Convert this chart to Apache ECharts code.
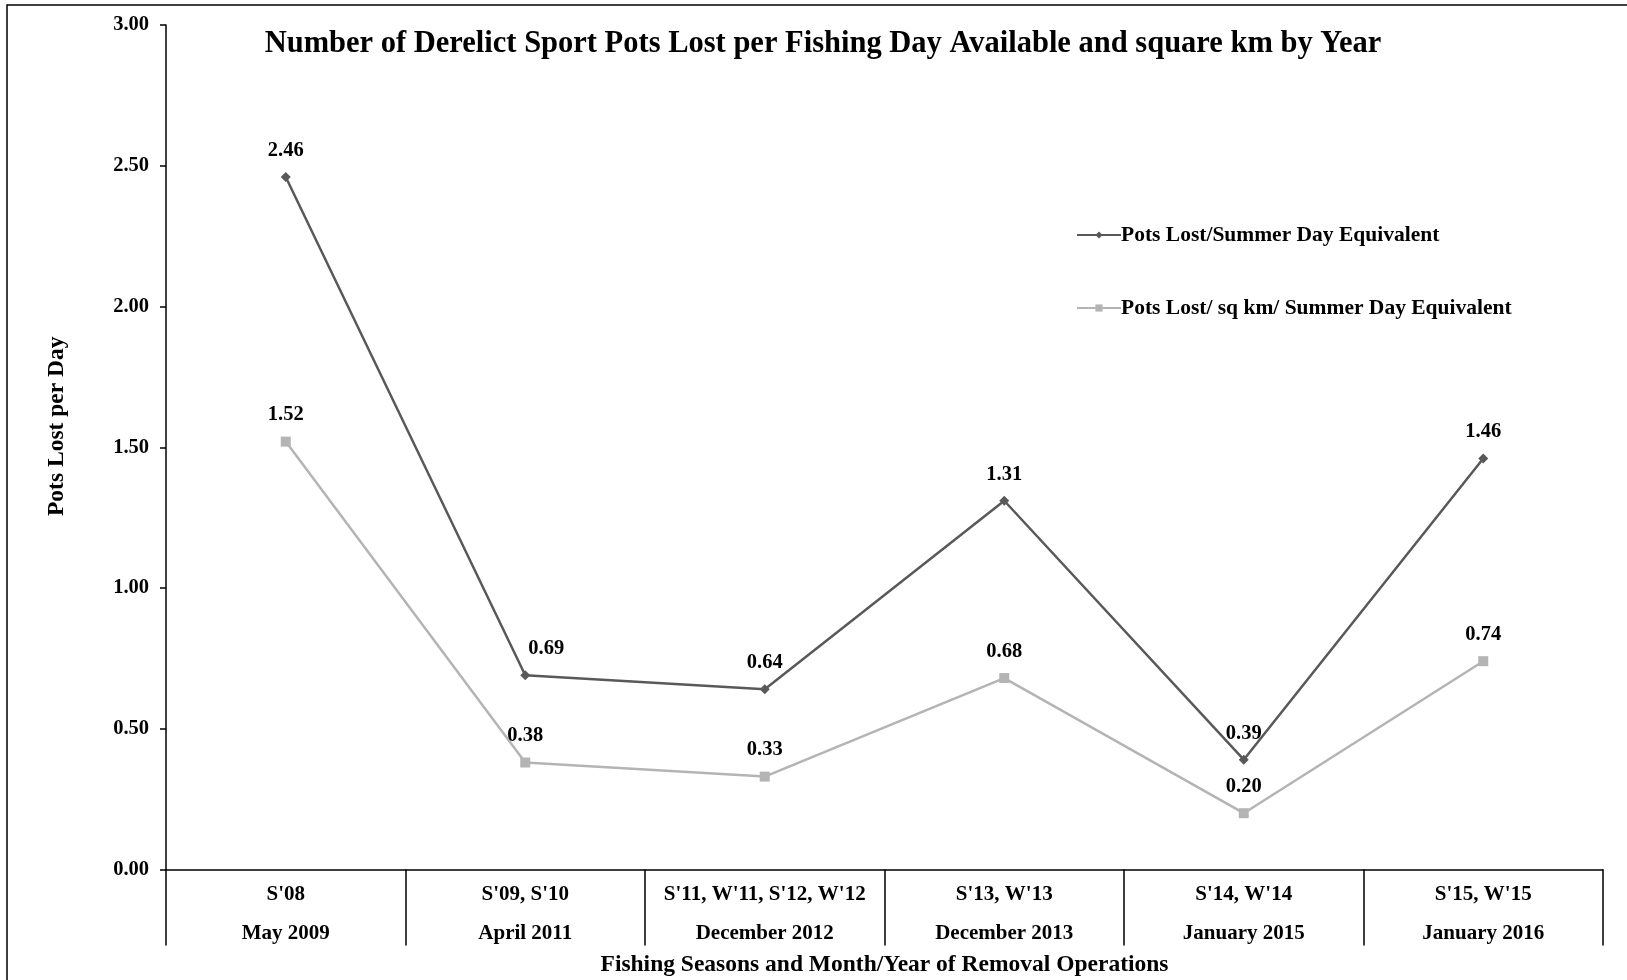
<!DOCTYPE html>
<html>
<head>
<meta charset="utf-8">
<script src="https://cdn.jsdelivr.net/npm/echarts@6/dist/echarts.min.js"></script>
<style>
html,body{margin:0;padding:0;background:#fff;}
#chart{width:1627px;height:980px;}
</style>
</head>
<body>
<div id="chart"></div>
<script>
const categories = [
  "S'08\nMay 2009",
  "S'09, S'10\nApril 2011",
  "S'11, W'11, S'12, W'12\nDecember 2012",
  "S'13, W'13\nDecember 2013",
  "S'14, W'14\nJanuary 2015",
  "S'15, W'15\nJanuary 2016"
];
const potsPerDay = [2.46, 0.69, 0.64, 1.31, 0.39, 1.46];
const potsPerSqKm = [1.52, 0.38, 0.33, 0.68, 0.20, 0.74];
const seriesNames = ["Pots Lost/Summer Day Equivalent", "Pots Lost/ sq km/ Summer Day Equivalent"];
const yTicks = [0, 0.5, 1, 1.5, 2, 2.5, 3];

const FONT = '"Liberation Serif", "Times New Roman", serif';
const chart = echarts.init(document.getElementById('chart'));

const labelCfg = {
  show: true,
  position: 'top',
  distance: 11,
  color: '#000',
  fontFamily: FONT,
  fontWeight: 'bold',
  fontSize: 20.5,
  formatter: p => p.value.toFixed(2)
};

chart.setOption({
  animation: false,
  backgroundColor: '#fff',
  title: {
    text: 'Number of Derelict Sport Pots Lost per Fishing Day Available and square km by Year',
    left: 818,
    top: 24,
    textAlign: 'center',
    textStyle: { fontFamily: FONT, fontWeight: 'bold', fontSize: 30.5, color: '#000' }
  },
  legend: {
    orient: 'vertical',
    left: 1071,
    top: 219,
    itemGap: 51,
    itemWidth: 44,
    itemHeight: 9,
    textStyle: { fontFamily: FONT, fontWeight: 'bold', fontSize: 21.5, color: '#000', padding: [0,0,0,-5] },
    data: seriesNames
  },
  grid: { left: 166, right: 1627 - 1603, top: 25, bottom: 980 - 869.5, containLabel: false, outerBoundsMode: 'none' },
  xAxis: {
    type: 'category',
    data: categories,
    boundaryGap: true,
    axisLine: { lineStyle: { color: '#000', width: 1.5 } },
    axisTick: { show: true, length: 76, lineStyle: { color: '#000', width: 1.5 } },
    axisLabel: {
      interval: 0,
      margin: 6,
      color: '#000',
      fontFamily: FONT,
      fontWeight: 'bold',
      fontSize: 21,
      lineHeight: 39
    },
    name: 'Fishing Seasons and Month/Year of Removal Operations',
    nameLocation: 'middle',
    nameGap: 83,
    nameMoveOverlap: false,
    nameTextStyle: { fontFamily: FONT, fontWeight: 'bold', fontSize: 23.5, color: '#000' }
  },
  yAxis: {
    type: 'value',
    min: 0,
    max: 3,
    interval: 0.5,
    splitLine: { show: false },
    axisLine: { show: true, lineStyle: { color: '#000', width: 1.5 } },
    axisTick: { show: true, length: 6, lineStyle: { color: '#000', width: 1.5 } },
    axisLabel: {
      margin: 17,
      color: '#000',
      fontFamily: FONT,
      fontWeight: 'bold',
      fontSize: 20.5,
      formatter: v => yTicks.indexOf(v) >= 0 ? v.toFixed(2) : ''
    },
    name: 'Pots Lost per Day',
    nameLocation: 'middle',
    nameGap: 97,
    nameRotate: 90,
    nameMoveOverlap: false,
    nameTextStyle: { fontFamily: FONT, fontWeight: 'bold', fontSize: 23.5, color: '#000', padding: [0, 0, 0, 42] }
  },
  series: [
    {
      name: seriesNames[0],
      type: 'line',
      data: potsPerDay,
      symbol: 'diamond',
      symbolSize: 10,
      color: '#595959',
      lineStyle: { color: '#595959', width: 2.5 },
      itemStyle: { color: '#595959' },
      label: labelCfg,
      labelLayout: function (params) {
        if (params.dataIndex === 1) { return { dx: 21 }; }
        return {};
      }
    },
    {
      name: seriesNames[1],
      type: 'line',
      data: potsPerSqKm,
      symbol: 'rect',
      symbolSize: 10,
      color: '#b4b4b4',
      lineStyle: { color: '#b4b4b4', width: 2.5 },
      itemStyle: { color: '#b4b4b4' },
      label: labelCfg
    }
  ],
  graphic: [
    { type: 'rect', shape: { x: 7, y: 5, width: 1700, height: 1100 }, style: { fill: null, stroke: '#000', lineWidth: 1.5 }, silent: true, z: 100 }
  ]
});
</script>
</body>
</html>
